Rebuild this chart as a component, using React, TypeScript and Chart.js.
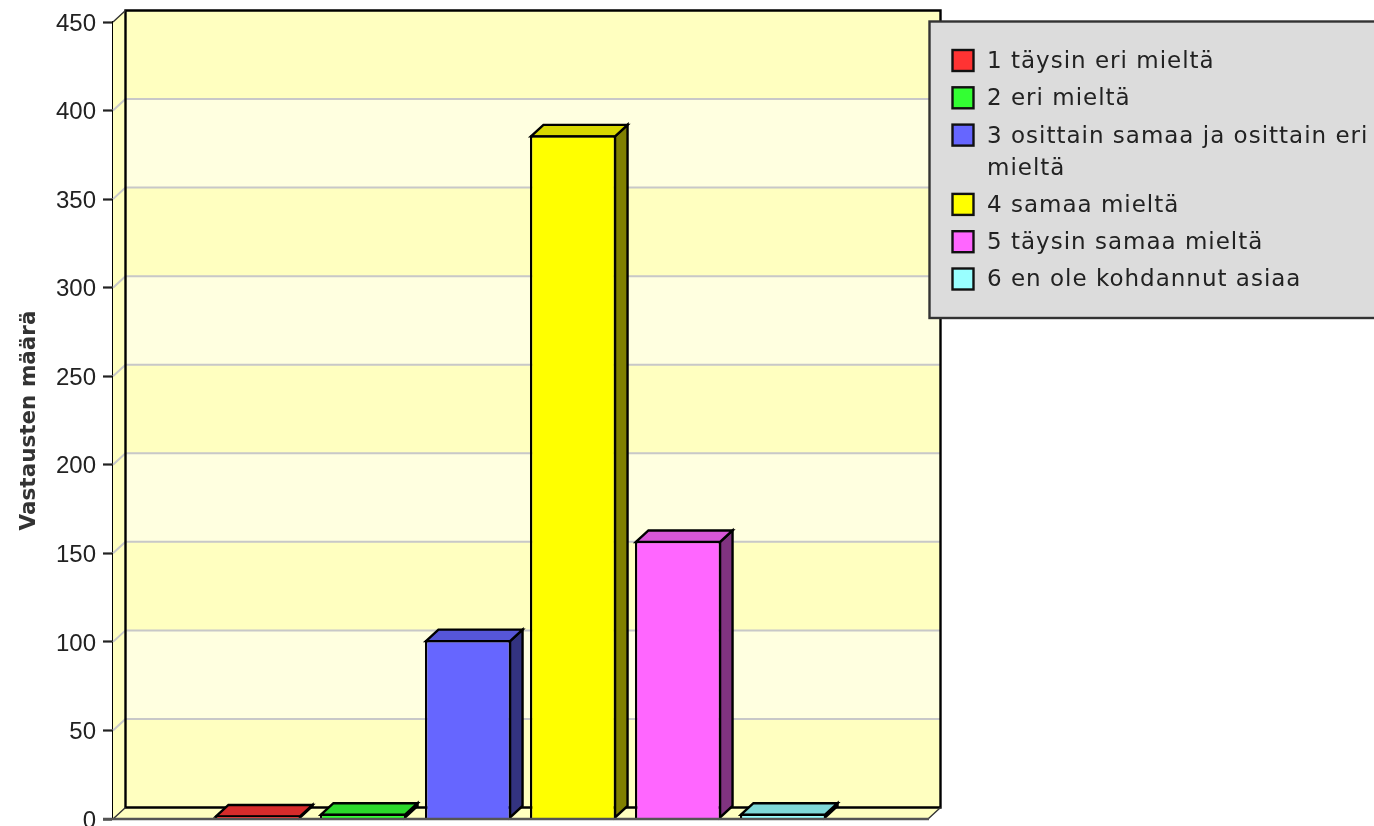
import React, { useEffect, useRef } from "react";
import { Chart, registerables } from "chart.js";

Chart.register(...registerables);

const seriesNames = [
  "1 täysin eri mieltä",
  "2 eri mieltä",
  "3 osittain samaa ja osittain eri mieltä",
  "4 samaa mieltä",
  "5 täysin samaa mieltä",
  "6 en ole kohdannut asiaa",
];
const seriesValues = [2, 3, 101, 386, 157, 3];
const categoryLabels = ["Vastaukset"];
const axisTitle = "Vastausten määrä";

const fillColors = ["#FF3333", "#33FF33", "#6666FF", "#FFFF00", "#FF66FF", "#99FFFF"];
const topColors = ["#D82B2B", "#2BD82B", "#5656D8", "#D8D800", "#D856D8", "#7FD8D8"];
const sideColors = ["#801A1A", "#1A801A", "#333380", "#808000", "#803380", "#4D8080"];

const DX = 12.5;
const DY = 11.5;
const FONT = "'DejaVu Sans'";

function poly(ctx: CanvasRenderingContext2D, pts: number[][], fill: string, stroke?: string, lw = 2) {
  ctx.beginPath();
  pts.forEach((p, i) => (i ? ctx.lineTo(p[0], p[1]) : ctx.moveTo(p[0], p[1])));
  ctx.closePath();
  ctx.fillStyle = fill;
  ctx.fill();
  if (stroke) {
    ctx.lineWidth = lw;
    ctx.strokeStyle = stroke;
    ctx.lineJoin = "miter";
    ctx.stroke();
  }
}

const wallsPlugin = {
  id: "walls",
  beforeDatasetsDraw(chart: any) {
    const ctx: CanvasRenderingContext2D = chart.ctx;
    const { left, right, top, bottom } = chart.chartArea;
    const y = chart.scales.y;
    const ticks: number[] = y.ticks.map((t: any) => t.value);
    ctx.save();
    // left side wall
    poly(ctx, [[left, top], [left + DX, top - DY], [left + DX, bottom - DY], [left, bottom]], "#FFFFC0");
    // alternating bands on back wall
    for (let i = 0; i < ticks.length - 1; i++) {
      const y0 = y.getPixelForValue(ticks[i]) - DY;
      const y1 = y.getPixelForValue(ticks[i + 1]) - DY;
      ctx.fillStyle = i % 2 === 0 ? "#FFFFC0" : "#FFFFE0";
      ctx.fillRect(left + DX, y1, right - left, y0 - y1);
    }
    // grid lines
    ctx.strokeStyle = "#C8C8C8";
    ctx.lineWidth = 2;
    ticks.forEach((v) => {
      if (v === ticks[0] || v === ticks[ticks.length - 1]) return;
      const py = y.getPixelForValue(v);
      ctx.beginPath();
      ctx.moveTo(left, py);
      ctx.lineTo(left + DX, py - DY);
      ctx.lineTo(right + DX, py - DY);
      ctx.stroke();
    });
    // floor
    poly(ctx, [[left, bottom], [left + DX, bottom - DY], [right + DX, bottom - DY], [right, bottom]], "#FFFFC0");
    // outlines
    ctx.strokeStyle = "#000";
    ctx.lineWidth = 2.4;
    ctx.lineJoin = "miter";
    ctx.beginPath();
    ctx.rect(left + DX, top - DY, right - left, bottom - top);
    ctx.stroke();
    ctx.strokeStyle = "#333";
    ctx.lineWidth = 1.4;
    ctx.beginPath();
    ctx.moveTo(left, top);
    ctx.lineTo(left + DX, top - DY);
    ctx.moveTo(left, bottom);
    ctx.lineTo(left + DX, bottom - DY);
    ctx.moveTo(right, bottom);
    ctx.lineTo(right + DX, bottom - DY);
    ctx.stroke();
    // bar depth faces
    chart.data.datasets.forEach((_: any, i: number) => {
      const bar = chart.getDatasetMeta(i).data[0] as any;
      const w = bar.width / 2;
      const l = bar.x - w + 1;
      const r = bar.x + w - 1;
      const t = bar.y + 1;
      const b = bar.base - 1;
      poly(ctx, [[r, t], [r + DX, t - DY], [r + DX, b - DY], [r, b]], sideColors[i], "#000", 2.4);
      poly(ctx, [[l, t], [l + DX, t - DY], [r + DX, t - DY], [r, t]], topColors[i], "#000", 2.4);
    });
    ctx.restore();
  },
  afterDatasetsDraw(chart: any) {
    const ctx: CanvasRenderingContext2D = chart.ctx;
    const { left, right, bottom } = chart.chartArea;
    ctx.save();
    ctx.strokeStyle = "#555";
    ctx.lineWidth = 2.4;
    ctx.beginPath();
    ctx.moveTo(left - 10, bottom);
    ctx.lineTo(right + 1, bottom);
    ctx.stroke();
    ctx.restore();
  },
};

const legendPlugin = {
  id: "boxLegend",
  afterDraw(chart: any) {
    const ctx: CanvasRenderingContext2D = chart.ctx;
    ctx.save();
    ctx.fillStyle = "#DCDCDC";
    ctx.fillRect(929.5, 21.5, 460, 296.5);
    ctx.strokeStyle = "#333";
    ctx.lineWidth = 2.4;
    ctx.strokeRect(929.5, 21.5, 460, 296.5);
    ctx.font = `23px ${FONT}`;
    (ctx as any).letterSpacing = "1px";
    ctx.textBaseline = "middle";
    ctx.textAlign = "left";
    let yy = 60;
    chart.data.datasets.forEach((ds: any, i: number) => {
      ctx.fillStyle = fillColors[i];
      ctx.fillRect(952.5, yy - 10, 21, 21);
      ctx.strokeStyle = "#111";
      ctx.lineWidth = 2.4;
      ctx.strokeRect(952.5, yy - 10, 21, 21);
      ctx.fillStyle = "#222";
      const lines: string[] = [];
      let cur = "";
      String(ds.label).split(" ").forEach((word) => {
        const next = cur ? cur + " " + word : word;
        if (ctx.measureText(next).width > 388 && cur) {
          lines.push(cur);
          cur = word;
        } else cur = next;
      });
      lines.push(cur);
      lines.forEach((ln, k) => ctx.fillText(ln, 987, yy + 2 + k * 32));
      yy += 37.3 + (lines.length - 1) * 32;
    });
    ctx.restore();
  },
};

export default function App() {
  const ref = useRef<HTMLCanvasElement>(null);
  useEffect(() => {
    const chart = new Chart(ref.current as HTMLCanvasElement, {
      type: "bar",
      data: {
        labels: categoryLabels,
        datasets: seriesNames.map((name, i) => ({
          label: name,
          data: [seriesValues[i]],
          backgroundColor: fillColors[i],
          borderColor: "#000",
          borderWidth: 2.4,
          borderSkipped: "bottom",
          categoryPercentage: 0.773,
          barPercentage: 0.82,
        })),
      },
      options: {
        animation: false,
        responsive: false,
        devicePixelRatio: 1,
        layout: { padding: { left: 0, right: 446, top: 22, bottom: 7 } },
        plugins: { legend: { display: false }, tooltip: { enabled: false } },
        scales: {
          x: { display: false },
          y: {
            min: 0,
            max: 450,
            afterFit: (s: any) => {
              s.width = 113;
              s.paddingTop = 0;
              s.paddingBottom = 0;
            },
            ticks: {
              stepSize: 50,
              padding: 7,
              labelOffset: 2,
              color: "#222",
              font: { family: "'Liberation Sans'", size: 24 },
            },
            grid: { drawOnChartArea: false, tickLength: 10, tickColor: "#222", tickWidth: 2.2 },
            border: { display: true, color: "#000", width: 2.4 },
            title: {
              display: true,
              text: axisTitle,
              color: "#333",
              padding: { top: 17, bottom: 0 },
              font: { family: FONT, size: 21.5, weight: "bold" },
            },
          },
        },
      } as any,
      plugins: [wallsPlugin, legendPlugin],
    });
    return () => chart.destroy();
  }, []);
  return (
    <div style={{ position: "fixed", inset: 0, overflow: "hidden", background: "#fff" }}>
      <canvas
        ref={ref}
        width={1374}
        height={826}
        style={{ display: "block", width: 1374, height: 826, filter: "blur(0.5px)" }}
      />
    </div>
  );
}
